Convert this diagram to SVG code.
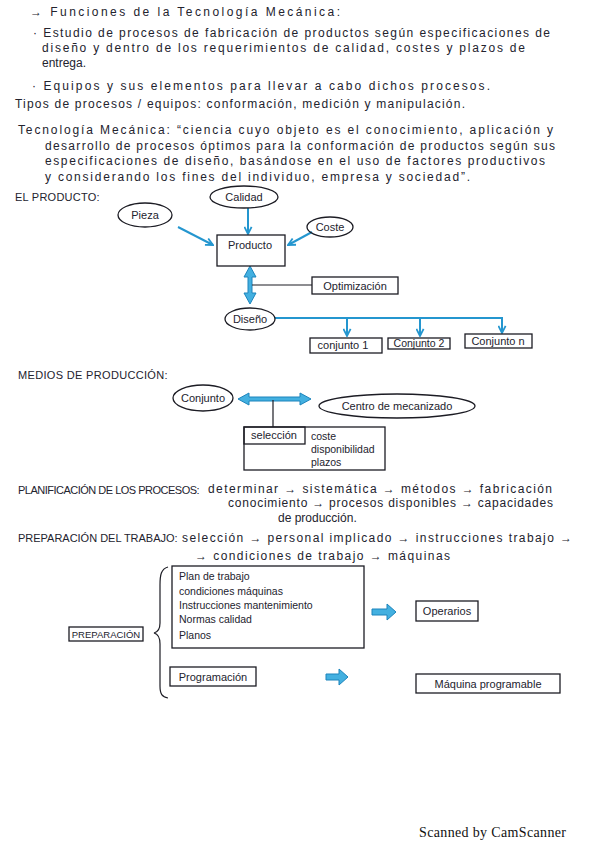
<svg xmlns="http://www.w3.org/2000/svg" width="599" height="848" viewBox="0 0 599 848">
<style>
 text { font-family: "Liberation Sans", Arial, sans-serif; font-size: 12px; fill: #23232e; }
 .hd { font-size: 11px; letter-spacing: 0.4px; }
 .nl { text-anchor: middle; font-size: 11px; }
 .sm { font-size: 10.5px; }
 .node { fill: none; stroke: #1c1c24; stroke-width: 1.3; }
 .blue { fill: none; stroke: #2496cf; stroke-width: 2; }
 .fat { fill: #43b0e0; stroke: #1c84bc; stroke-width: 1; }
 .ink { fill: none; stroke: #1c1c24; stroke-width: 1.2; }
 .scan { font-family: "Liberation Serif", "Times New Roman", serif; font-size: 14px; fill: #111; }
</style>
<defs>
 <marker id="ah" viewBox="0 0 10 10" refX="9" refY="5" markerWidth="9" markerHeight="9" markerUnits="userSpaceOnUse" orient="auto-start-reverse">
  <path d="M1,1 L9,5 L1,9" fill="none" stroke="#2496cf" stroke-width="2"/>
 </marker>
</defs>
<rect x="0" y="0" width="599" height="848" fill="#ffffff"/>

<g id="texto">
 <text x="30" y="16" textLength="310">→ Funciones de la Tecnología Mecánica:</text>
 <text x="33" y="37" textLength="517">· Estudio de procesos de fabricación de productos según especificaciones de</text>
 <text x="42" y="52" textLength="483">diseño y dentro de los requerimientos de calidad, costes y plazos de</text>
 <text x="42" y="67">entrega.</text>
 <text x="32" y="90" textLength="458">· Equipos y sus elementos para llevar a cabo dichos procesos.</text>
 <text x="15" y="108" textLength="450">Tipos de procesos / equipos: conformación, medición y manipulación.</text>
 <text x="18" y="134" textLength="535">Tecnología Mecánica: “ciencia cuyo objeto es el conocimiento, aplicación y</text>
 <text x="45" y="150" textLength="510">desarrollo de procesos óptimos para la conformación de productos según sus</text>
 <text x="45" y="165" textLength="500">especificaciones de diseño, basándose en el uso de factores productivos</text>
 <text x="45" y="181" textLength="425">y considerando los fines del individuo, empresa y sociedad”.</text>
 <text class="hd" x="15" y="201" textLength="85">EL PRODUCTO:</text>
 <text class="hd" x="18" y="379" textLength="150">MEDIOS DE PRODUCCIÓN:</text>
 <text class="hd" x="18" y="494" textLength="182">PLANIFICACIÓN DE LOS PROCESOS:</text>
 <text x="208" y="493" textLength="344">determinar → sistemática → métodos → fabricación</text>
 <text x="228" y="507" textLength="325">conocimiento → procesos disponibles → capacidades</text>
 <text x="278" y="522">de producción.</text>
 <text class="hd" x="18" y="542" textLength="160">PREPARACIÓN DEL TRABAJO:</text>
 <text x="182" y="542" textLength="390">selección → personal implicado → instrucciones trabajo →</text>
 <text x="195" y="560" textLength="255">→ condiciones de trabajo → máquinas</text>
</g>

<g id="conectores">
 <line class="blue" x1="178" y1="227" x2="213" y2="245" marker-end="url(#ah)"/>
 <line class="blue" x1="248" y1="208" x2="248" y2="234" marker-end="url(#ah)"/>
 <line class="blue" x1="312" y1="232" x2="288" y2="245" marker-end="url(#ah)"/>
 <polygon class="fat" points="250,266 244,277 248,277 248,293 244,293 250,304 256,293 252,293 252,277 256,277"/>
 <line class="ink" x1="252" y1="285" x2="312" y2="285"/>
 <path class="blue" d="M275,318 L503,318"/>
 <line class="blue" x1="347" y1="318" x2="347" y2="336" marker-end="url(#ah)"/>
 <line class="blue" x1="420" y1="318" x2="420" y2="336" marker-end="url(#ah)"/>
 <line class="blue" x1="502" y1="318" x2="502" y2="333" marker-end="url(#ah)"/>
 <polygon class="fat" points="238,399 249,393 249,397 300,397 300,393 311,399 300,405 300,401 249,401 249,405"/>
 <line class="ink" x1="273" y1="400" x2="273" y2="427"/>
 <path class="ink" d="M168,567 C161,569 160,575 160,585 L160,623 C160,629 158,632 154,633 C158,634 160,638 160,644 L160,686 C160,694 162,697 168,698"/>
 <polygon class="fat" points="372,609 387,609 387,604 396,612 387,620 387,615 372,615"/>
 <polygon class="fat" points="326,674 339,674 339,669 348,677 339,685 339,680 326,680"/>
</g>

<g id="pieza"><ellipse class="node" cx="145" cy="215" rx="27" ry="12"/><text class="nl" x="145" y="219">Pieza</text></g>
<g id="calidad"><ellipse class="node" cx="244" cy="197" rx="34" ry="11"/><text class="nl" x="244" y="201">Calidad</text></g>
<g id="coste"><ellipse class="node" cx="330" cy="227" rx="23" ry="10"/><text class="nl" x="330" y="231">Coste</text></g>
<g id="producto"><rect class="node" x="217" y="235" width="68" height="31"/><text class="nl" x="250" y="249">Producto</text></g>
<g id="optimizacion"><rect class="node" x="312" y="277" width="86" height="17"/><text class="nl" x="355" y="290">Optimización</text></g>
<g id="diseno"><ellipse class="node" cx="250" cy="319" rx="25" ry="11"/><text class="nl" x="250" y="323">Diseño</text></g>
<g id="conjunto1"><rect class="node" x="310" y="338" width="72" height="15"/><text class="nl" x="343" y="349">conjunto 1</text></g>
<g id="conjunto2"><rect class="node" x="388" y="338" width="62" height="11"/><text class="nl sm" x="419" y="347">Conjunto 2</text></g>
<g id="conjunton"><rect class="node" x="465" y="334" width="67" height="14"/><text class="nl" x="498" y="345">Conjunto n</text></g>

<g id="conjunto"><ellipse class="node" cx="203" cy="398" rx="30" ry="13"/><text class="nl" x="203" y="402">Conjunto</text></g>
<g id="centro"><ellipse class="node" cx="397" cy="406" rx="78" ry="12"/><text class="nl" x="397" y="410">Centro de mecanizado</text></g>
<g id="seleccion">
 <rect class="node" x="244" y="427" width="141" height="43"/>
 <rect class="node" x="244" y="427" width="61" height="17"/>
 <text class="nl" x="274" y="439">selección</text>
 <text class="sm" x="311" y="440">coste</text>
 <text class="sm" x="311" y="453">disponibilidad</text>
 <text class="sm" x="311" y="466">plazos</text>
</g>

<g id="documentos">
 <rect class="node" x="172" y="566" width="192" height="82"/>
 <text class="sm" x="179" y="580">Plan de trabajo</text>
 <text class="sm" x="179" y="595">condiciones máquinas</text>
 <text class="sm" x="179" y="609">Instrucciones mantenimiento</text>
 <text class="sm" x="179" y="623">Normas calidad</text>
 <text class="sm" x="179" y="639">Planos</text>
</g>
<g id="preparacion"><rect class="node" x="69" y="627" width="74" height="14"/><text class="nl" x="106" y="638" style="font-size:9.5px">PREPARACIÓN</text></g>
<g id="programacion"><rect class="node" x="170" y="667" width="86" height="19"/><text class="nl" x="213" y="681">Programación</text></g>
<g id="operarios"><rect class="node" x="416" y="601" width="62" height="20"/><text class="nl" x="447" y="615">Operarios</text></g>
<g id="maquina"><rect class="node" x="416" y="674" width="144" height="19"/><text class="nl" x="488" y="688">Máquina programable</text></g>

<text class="scan" x="419" y="837" textLength="147">Scanned by CamScanner</text>
</svg>
